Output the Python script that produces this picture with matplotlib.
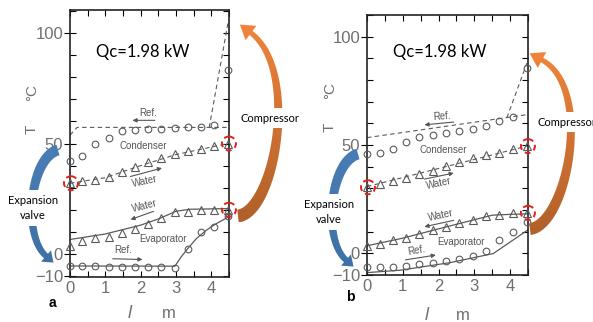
import numpy as np
import matplotlib
matplotlib.use("Agg")
import matplotlib.pyplot as plt
from matplotlib.patches import Polygon, Circle
from matplotlib.colors import LinearSegmentedColormap
from matplotlib.ticker import FixedLocator, MultipleLocator

# --- data (position l in m, temperature in degC) ---
x_pts = [0, 0.35, 0.72, 1.09, 1.46, 1.84, 2.21, 2.58, 2.96, 3.33, 3.70, 4.08, 4.47]

# panel a
ref_cond_a = [42, 44.5, 50, 52.5, 55.5, 56, 56.7, 56.7, 57, 57.5, 57.7, 58.5, 83.5]
wat_cond_a = [32, 33, 33.5, 35, 37, 39.5, 41.5, 43.5, 45.3, 46.4, 47.7, 49, 50]
wat_evap_a = [3.6, 6, 7, 7.7, 9.5, 11.2, 13.6, 16.4, 19, 19, 20, 20, 20]
ref_evap_a = [-5.5, -5.5, -5.5, -5.8, -5.8, -5.8, -6, -6, -6.2, 2, 10, 12, 17]

ref_cond_line_a_x = [0, 0.2, 3.94, 4.47]
ref_cond_line_a_y = [53.8, 57.3, 57.3, 57.3]
ref_disch_a_x = [3.94, 4.47]
ref_disch_a_y = [57.3, 104.5]
wat_cond_line_a_x = [0, 1, 2, 3, 4.47]
wat_cond_line_a_y = [32, 34.5, 40, 45, 50]
wat_evap_line_a_x = [0, 1, 2, 2.5, 3.0, 3.4, 4.47]
wat_evap_line_a_y = [6.5, 9, 13, 15.8, 19.3, 20.2, 20.5]
ref_evap_line_a_x = [0, 2.97, 3.14, 3.35, 3.57, 3.85, 4.13, 4.47]
ref_evap_line_a_y = [-5.5, -5.6, -1.5, 2.7, 6.8, 10.6, 13.6, 16.6]

# panel b
ref_cond_b = [45.7, 46.2, 48, 51.4, 53.7, 54.4, 55.4, 56.4, 57.5, 59, 61.3, 63, 85.5]
wat_cond_b = [30.5, 32, 33.6, 35, 36.6, 38, 40.4, 42.2, 44.2, 45.3, 46.2, 48, 49.5]
wat_evap_b = [3.4, 4.4, 6, 7.2, 9, 10.9, 12.1, 13.9, 15.6, 17.4, 17.8, 18.5, 18.7]
ref_evap_b = [-6.3, -6.3, -6.3, -5.8, -5, -4.4, -3.5, -2.4, -1.4, 0.9, 6, 9.8, 14.4]

ref_cond_line_b_x = [0, 4.47]
ref_cond_line_b_y = [53.4, 64]
ref_disch_b_x = [3.91, 4.47]
ref_disch_b_y = [62.6, 87.8]
wat_cond_line_b_x = [0, 2.2, 4.47]
wat_cond_line_b_y = [30.8, 40, 49.5]
wat_evap_line_b_x = [0, 1, 2, 3, 3.5, 4, 4.47]
wat_evap_line_b_y = [3.5, 7, 11.3, 15.5, 17.6, 18, 18.2]
ref_evap_line_b_x = [0, 0.92, 2.32, 3.53, 4.47]
ref_evap_line_b_y = [-8.9, -7.8, -4.3, -0.1, 10.5]

xticks = [0, 1, 2, 3, 4]
yticks = [-10, 0, 50, 100]

W, H = 593, 322
GRAY = "#6f6f6f"
LINE = "#5a5a5a"
plt.rcParams["font.family"] = ["Liberation Sans", "DejaVu Sans"]

fig = plt.figure(figsize=(W / 100, H / 100), dpi=100)
ax_a = fig.add_axes([70 / W, 1 - 277 / H, 159 / W, 267 / H])
ax_b = fig.add_axes([367 / W, 1 - 275 / H, 161 / W, 260 / H])


def setup(ax, ylim):
    ax.set_xlim(0, 4.5)
    ax.set_ylim(*ylim)
    ax.xaxis.set_major_locator(FixedLocator(xticks))
    ax.xaxis.set_minor_locator(MultipleLocator(0.5))
    ax.yaxis.set_major_locator(FixedLocator(yticks))
    ax.yaxis.set_minor_locator(MultipleLocator(10))
    ax.xaxis.remove_overlapping_locs = False
    ax.yaxis.remove_overlapping_locs = False
    ax.tick_params(axis="x", which="major", length=0, labelsize=12, labelcolor=GRAY, pad=3)
    ax.tick_params(axis="x", which="minor", direction="in", top=True, bottom=True,
                   length=4, width=0.8)
    ax.tick_params(axis="y", which="major", direction="out", length=4, width=0.8,
                   labelsize=12, labelcolor=GRAY, pad=1)
    ax.tick_params(axis="y", which="minor", direction="in", left=True, right=True,
                   length=4, width=0.8)
    for s in ax.spines.values():
        s.set_linewidth(1.2)
        s.set_color("#222222")


def draw_panel(ax, rc, wc, we, re_, lines):
    mk = dict(mfc="none", mec=LINE, mew=0.8, ls="none", clip_on=False, zorder=4)
    ax.plot(x_pts, rc, marker="o", ms=4.8, **mk)
    ax.plot(x_pts, wc, marker="^", ms=5.2, **mk)
    ax.plot(x_pts, we, marker="^", ms=5.2, **mk)
    ax.plot(x_pts, re_, marker="o", ms=4.8, **mk)
    (rcx, rcy), (rdx, rdy), (wcx, wcy), (wex, wey), (rex, rey) = lines
    dash = dict(color=LINE, lw=0.8, ls=(0, (4, 3)))
    ax.plot(rcx, rcy, **dash)
    ax.plot(rdx, rdy, **dash)
    ax.plot(wcx, wcy, **dash)
    ax.plot(wex, wey, color=LINE, lw=0.9)
    ax.plot(rex, rey, color=LINE, lw=0.9)


def label(ax, x, y, s, rot=0):
    ax.text(x, y, s, fontsize=7, color="#555555", ha="center", va="center", rotation=rot)


def flow(ax, start, end):
    ax.annotate("", xy=end, xytext=start,
                arrowprops=dict(arrowstyle="-|>", color="#555555", lw=0.8, mutation_scale=6))


setup(ax_a, (-10.5, 110.5))
setup(ax_b, (-10, 110))

draw_panel(ax_a, ref_cond_a, wat_cond_a, wat_evap_a, ref_evap_a,
           [(ref_cond_line_a_x, ref_cond_line_a_y), (ref_disch_a_x, ref_disch_a_y),
            (wat_cond_line_a_x, wat_cond_line_a_y), (wat_evap_line_a_x, wat_evap_line_a_y),
            (ref_evap_line_a_x, ref_evap_line_a_y)])
draw_panel(ax_b, ref_cond_b, wat_cond_b, wat_evap_b, ref_evap_b,
           [(ref_cond_line_b_x, ref_cond_line_b_y), (ref_disch_b_x, ref_disch_b_y),
            (wat_cond_line_b_x, wat_cond_line_b_y), (wat_evap_line_b_x, wat_evap_line_b_y),
            (ref_evap_line_b_x, ref_evap_line_b_y)])

# labels inside panel a
label(ax_a, 2.2, 63.6, "Ref.")
flow(ax_a, (2.48, 60.5), (1.69, 60.5))
label(ax_a, 2.06, 49, "Condenser")
label(ax_a, 2.13, 33, "Water", 12)
flow(ax_a, (1.63, 34.7), (2.68, 39.2))
label(ax_a, 2.11, 21.9, "Water", 14)
flow(ax_a, (2.44, 19.7), (1.64, 15.1))
label(ax_a, 2.62, 6.8, "Evaporator")
label(ax_a, 1.5, 1.8, "Ref.")
flow(ax_a, (1.13, -2.2), (2.13, -2.6))

# labels inside panel b
label(ax_b, 2.09, 63.3, "Ref.", 4)
flow(ax_b, (2.5, 60.7), (1.53, 59.2))
label(ax_b, 2.14, 47.6, "Condenser")
label(ax_b, 2.0, 32.4, "Water", 12)
flow(ax_b, (1.53, 34), (2.5, 37.3))
label(ax_b, 2.07, 17.4, "Water", 12)
flow(ax_b, (2.5, 15.5), (1.53, 12))
label(ax_b, 2.63, 5.2, "Evaporator")
label(ax_b, 1.39, 1.4, "Ref.", 10)
flow(ax_b, (1.0, -3.2), (2.0, -0.6))

# overlay in pixel coordinates for the annotations
ov = fig.add_axes([0, 0, 1, 1], zorder=5)
ov.axis("off")


def curved_arrow(pts, w0, w1, hw, hl, c_top, c_bot):
    P = np.array(pts, float)
    t = np.linspace(0, 1, 80)[:, None]
    curve = ((1 - t) ** 3 * P[0] + 3 * (1 - t) ** 2 * t * P[1]
             + 3 * (1 - t) * t ** 2 * P[2] + t ** 3 * P[3])
    d = (3 * (1 - t) ** 2 * (P[1] - P[0]) + 6 * (1 - t) * t * (P[2] - P[1])
         + 3 * t ** 2 * (P[3] - P[2]))
    d = d / np.linalg.norm(d, axis=1, keepdims=True)
    n = np.column_stack([-d[:, 1], d[:, 0]])
    w = (w0 + (w1 - w0) * t) / 2
    left = curve + n * w
    right = curve - n * w
    tip = curve[-1] + d[-1] * hl
    head = [curve[-1] + n[-1] * hw / 2, tip, curve[-1] - n[-1] * hw / 2]
    poly = np.vstack([left, head, right[::-1]])
    patch = Polygon(poly, closed=True, fc="none", ec="none")
    ov.add_patch(patch)
    x0, y0 = poly.min(0)
    x1, y1 = poly.max(0)
    cmap = LinearSegmentedColormap.from_list("g", [c_top, c_bot])
    im = ov.imshow(np.linspace(0, 1, 64).reshape(-1, 1), cmap=cmap, origin="upper",
                   extent=(x0, x1, y1, y0), aspect="auto", interpolation="bilinear")
    im.set_clip_path(patch)


# expansion valve (blue) and compressor (orange) arrows
for dx, dy in [(0, 0), (300, 4)]:
    curved_arrow([(58 + dx, 150 + dy), (30 + dx, 158 + dy), (22 + dx, 235 + dy), (46 + dx, 256 + dy)],
                 11, 6, 15, 10, "#4a7db5", "#3e71a6")
curved_arrow([(238, 216), (275, 212), (300, 70), (251, 33)], 13, 5, 18, 14, "#f0843a", "#b0602a")
curved_arrow([(530, 229), (567, 225), (594, 88), (542, 60)], 12, 5, 18, 14, "#f0843a", "#b0602a")

ov.set_xlim(0, W)
ov.set_ylim(H, 0)

txt = dict(family=["Lato", "DejaVu Sans"], color="black")
ov.text(33, 208, "Expansion\nvalve", fontsize=8, ha="center", va="center", linespacing=1.4,
        bbox=dict(fc="white", ec="none", pad=4), **txt)
ov.text(329, 212, "Expansion\nvalve", fontsize=8, ha="center", va="center", linespacing=1.4,
        bbox=dict(fc="white", ec="none", pad=4), **txt)
ov.text(270, 118, "Compressor", fontsize=8, ha="center", va="center",
        bbox=dict(fc="white", ec="none", pad=3), **txt)
ov.text(538, 122, "Compressor", fontsize=8, ha="left", va="center",
        bbox=dict(fc="white", ec="none", pad=3), **txt)
ov.text(143, 52, "Qc=1.98 kW", fontsize=12, ha="center", va="center", **txt)
ov.text(440, 52, "Qc=1.98 kW", fontsize=12, ha="center", va="center", **txt)

# axis labels and panel letters
for x0, a_y in [(32, 0), (330, -2)]:
    ov.text(x0, 129 + a_y, "T", fontsize=11, color=GRAY, rotation=90, ha="center", va="center")
    ov.text(x0, 92 + a_y, "°C", fontsize=11, color=GRAY, rotation=90, ha="center", va="center")
ov.text(52, 303, "a", fontsize=10, weight="bold", ha="center", va="center")
ov.text(350, 297, "b", fontsize=10, weight="bold", ha="center", va="center")
ov.text(130, 313, "l", fontsize=13, style="italic", color=GRAY, ha="center", va="center")
ov.text(169, 314, "m", fontsize=12, color=GRAY, ha="center", va="center")
ov.text(427, 315, "l", fontsize=13, style="italic", color=GRAY, ha="center", va="center")
ov.text(463, 316, "m", fontsize=12, color=GRAY, ha="center", va="center")

# red dashed rings around the water inlet/outlet points
rings = [(ax_a, 4.47, wat_cond_a[-1]), (ax_a, 0, wat_cond_a[0]), (ax_a, 4.47, wat_evap_a[-1]),
         (ax_b, 4.47, wat_cond_b[-1]), (ax_b, 0, wat_cond_b[0]), (ax_b, 4.47, wat_evap_b[-1])]
for ax, x, y in rings:
    px, py = ov.transData.inverted().transform(ax.transData.transform((x, y)))
    ov.add_patch(Circle((px + 1, py), 7, fill=False, ec="#e0201b", lw=1.4, ls=(0, (3, 2))))

fig.savefig("out.png", dpi=100)
